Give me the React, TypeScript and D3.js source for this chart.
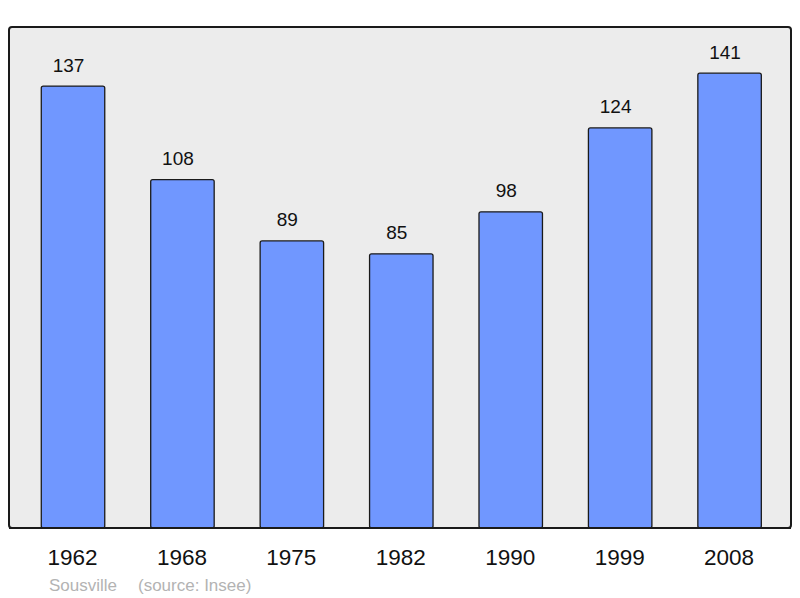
import React from 'react';
import * as d3 from 'd3';

const years = ['1962', '1968', '1975', '1982', '1990', '1999', '2008'];
const population = [137, 108, 89, 85, 98, 124, 141];
const townName = 'Sousville';
const sourceNote = '(source: Insee)';

const width = 800;
const height = 598;
const frame = { left: 9, top: 27, right: 791, bottom: 528 };

export default function App() {
  const x = d3.scaleBand<string>()
    .domain(years)
    .range([18.3, 784.3])
    .paddingInner(0.42)
    .paddingOuter(0.21);

  const y = d3.scaleLinear()
    .domain([0, 155.3])
    .range([frame.bottom, frame.top]);

  return (
    <svg width={width} height={height} viewBox={`0 0 ${width} ${height}`}
      style={{ position: 'absolute', left: 0, top: 0, fontFamily: '"Liberation Sans", Arial, sans-serif' }}>
      <rect x={0} y={0} width={width} height={height} fill="#fff" />
      <rect x={frame.left} y={frame.top} width={frame.right - frame.left} height={frame.bottom - frame.top}
        rx={3} fill="#ececec" stroke="#1a1a1a" strokeWidth={2} />

      {population.map((v, i) => (
        <g key={years[i]}>
          <rect x={x(years[i])} y={y(v)} width={x.bandwidth()} height={y(0) - y(v)}
            rx={2} fill="#7097ff" stroke="#1a1a1a" strokeWidth={1.3} />
          {/* value labels sit a little left of the bar centre, as in the source */}
          <text x={(x(years[i]) ?? 0) + x.bandwidth() / 2 - 4.5} y={y(v) - 14.5}
            textAnchor="middle" fontSize={19} fill="#111">{v}</text>
        </g>
      ))}

      {/* redraw bottom edge of frame over the bars */}
      <line x1={frame.left} x2={frame.right} y1={frame.bottom} y2={frame.bottom} stroke="#1a1a1a" strokeWidth={2} />

      {years.map(yr => (
        <text key={yr} x={(x(yr) ?? 0) + x.bandwidth() / 2 - 0.5} y={565}
          textAnchor="middle" fontSize={22.5} fill="#111">{yr}</text>
      ))}

      <text x={49} y={590.5} fontSize={17} fill="#b3b3b3">{townName}</text>
      <text x={138} y={590.5} fontSize={17} fill="#b3b3b3">{sourceNote}</text>
    </svg>
  );
}
